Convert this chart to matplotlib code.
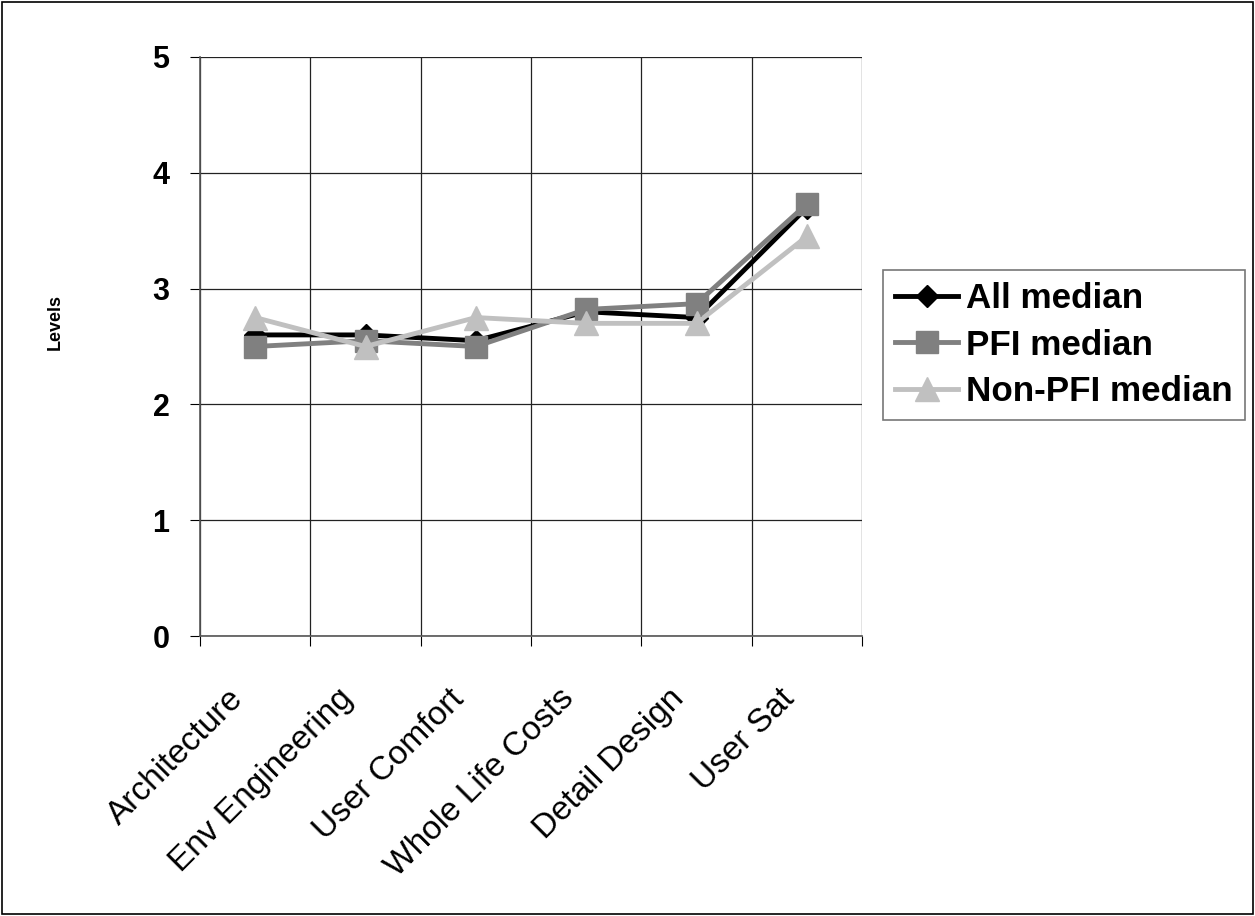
import matplotlib
matplotlib.use("Agg")
import matplotlib.pyplot as plt
from matplotlib.patches import Rectangle

plt.rcParams['font.family'] = ['Liberation Sans', 'DejaVu Sans']

categories = ["Architecture", "Env Engineering", "User Comfort", "Whole Life Costs", "Detail Design", "User Sat"]
all_median = [2.6, 2.6, 2.55, 2.8, 2.75, 3.7]
pfi_median = [2.5, 2.55, 2.5, 2.82, 2.87, 3.73]
nonpfi_median = [2.75, 2.5, 2.75, 2.7, 2.7, 3.45]
y_ticks = [0, 1, 2, 3, 4, 5]

fig = plt.figure(figsize=(12.55, 9.16), dpi=100)
fig.patches.append(Rectangle((0.0015, 0.002), 0.997, 0.996, transform=fig.transFigure,
                             fill=False, edgecolor='black', linewidth=1.2))
ax = fig.add_axes([200/1255, 1-636/916, 662/1255, 579/916])

x = [i + 0.5 for i in range(len(categories))]
ax.plot(x, all_median, color='black', lw=3.5, marker='D', ms=11, label='All median', zorder=3)
ax.plot(x, pfi_median, color='#808080', lw=3.5, marker='s', ms=16, label='PFI median', zorder=4)
ax.plot(x, nonpfi_median, color='#C0C0C0', lw=3.5, marker='^', ms=17, label='Non-PFI median', zorder=5)

ax.set_xlim(0, 6)
ax.set_ylim(0, 5)
ax.set_yticks(y_ticks)
ax.set_yticklabels([str(v) for v in y_ticks], fontsize=22, fontweight='bold')
ax.set_xticks(range(0, 7))
ax.set_xticklabels([])
for xi, cat in zip(x, categories):
    ax.annotate(cat, xy=(xi, 0), xycoords=('data', 'axes fraction'), xytext=(-20, -34),
                textcoords='offset points', rotation=45, ha='right', va='top',
                rotation_mode='anchor', fontsize=24, annotation_clip=False)
ax.tick_params(axis='x', which='major', length=7, color='black', direction='out')
ax.tick_params(axis='y', length=7, direction='out', pad=15)
ax.grid(True, which='major', color='#222222', lw=0.9)
for s in ['top', 'right']:
    ax.spines[s].set_visible(False)
for s in ['left', 'bottom']:
    ax.spines[s].set_color('#555555')
    ax.spines[s].set_linewidth(1.2)

fig.text(55/1255, 1-322/916, 'Levels', rotation=90, fontsize=13, fontweight='bold', va='center', ha='center')

leg = fig.legend(loc='upper left', bbox_to_anchor=(883/1255, 1-270/916), prop={'size': 25.2, 'weight': 'bold'},
                 frameon=True, fancybox=False, edgecolor='#555555', handlelength=1.8, handletextpad=0.22,
                 borderpad=0.35, labelspacing=0.38, borderaxespad=0)
leg.get_frame().set_linewidth(1.2)

fig.savefig('out.png', dpi=100)
